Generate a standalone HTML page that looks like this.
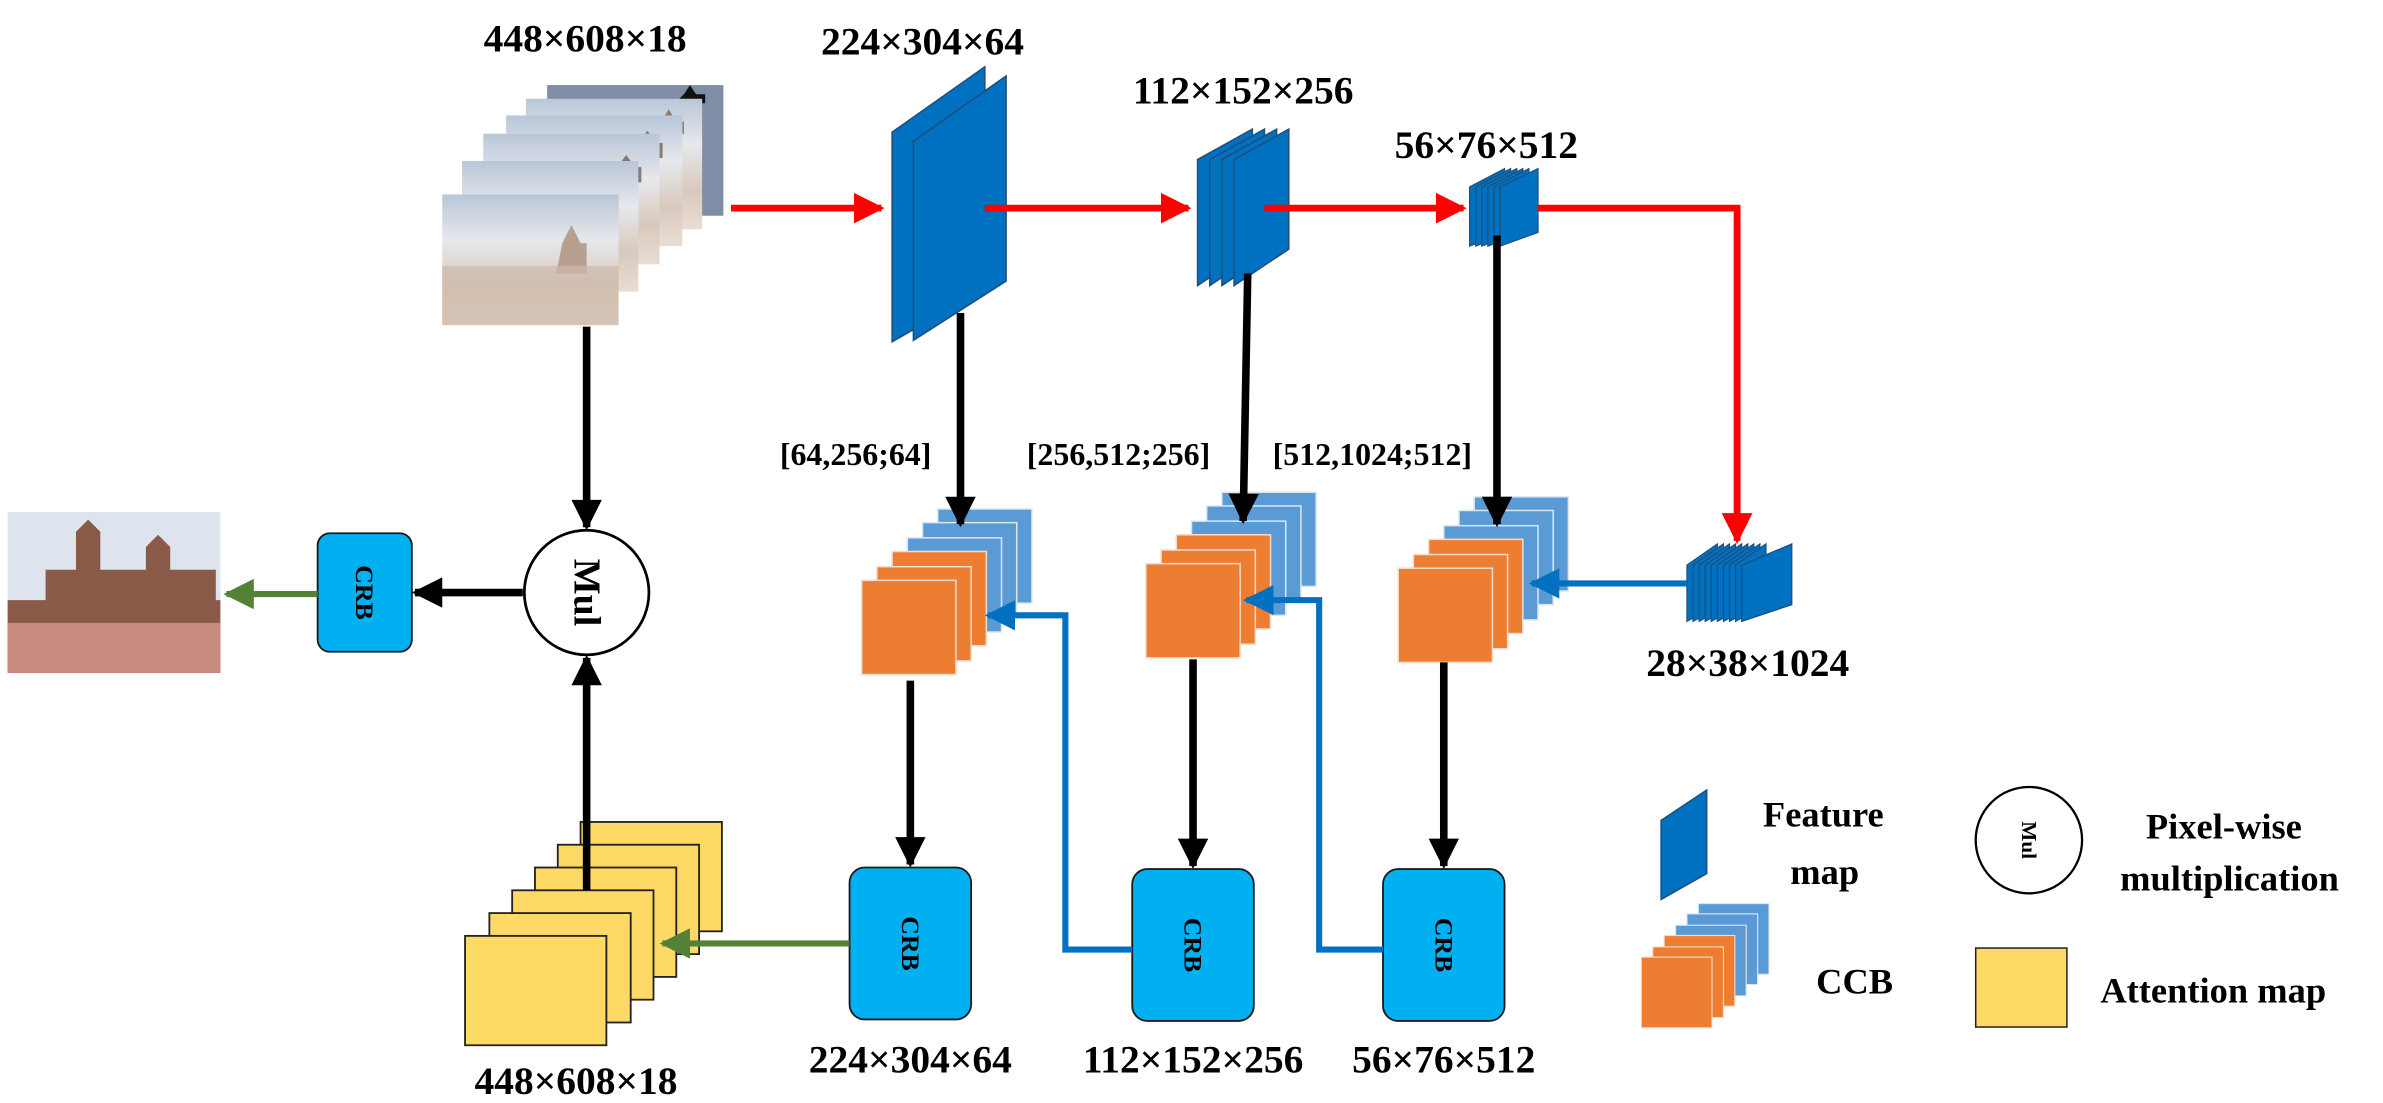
<!DOCTYPE html>
<html><head><meta charset="utf-8"><style>
html,body{margin:0;padding:0;background:#fff;}
svg{display:block;}
text{font-family:"Liberation Serif",serif;font-weight:bold;fill:#000;}
</style></head><body>
<svg width="2383" height="1103" viewBox="0 0 1568 726" preserveAspectRatio="none" xmlns="http://www.w3.org/2000/svg">
<defs>
<linearGradient id="sky" x1="0" y1="0" x2="0" y2="1">
<stop offset="0" stop-color="#b9c6d8"/><stop offset="0.35" stop-color="#e6e8ec"/><stop offset="0.7" stop-color="#d8c9bd"/><stop offset="1" stop-color="#e9ddd3"/></linearGradient>
<linearGradient id="sky2" x1="0" y1="0" x2="0" y2="1">
<stop offset="0" stop-color="#c7d3e3"/><stop offset="0.4" stop-color="#b59a86"/><stop offset="0.7" stop-color="#8a5b4a"/><stop offset="1" stop-color="#c26a6a"/></linearGradient>
<marker id="ar" viewBox="0 0 10 10" refX="9" refY="5" markerWidth="4.5" markerHeight="4.5" orient="auto" markerUnits="strokeWidth"><path d="M0,0 L10,5 L0,10 z" fill="#f00"/></marker>
<marker id="ak" viewBox="0 0 10 10" refX="9" refY="5" markerWidth="4.5" markerHeight="4" orient="auto" markerUnits="strokeWidth"><path d="M0,0 L10,5 L0,10 z" fill="#000"/></marker>
<marker id="ab" viewBox="0 0 10 10" refX="9" refY="5" markerWidth="5" markerHeight="5" orient="auto" markerUnits="strokeWidth"><path d="M0,0 L10,5 L0,10 z" fill="#0070c0"/></marker>
<marker id="ag" viewBox="0 0 10 10" refX="9" refY="5" markerWidth="5" markerHeight="5" orient="auto" markerUnits="strokeWidth"><path d="M0,0 L10,5 L0,10 z" fill="#538135"/></marker>
</defs>

<!-- input frames -->
<g>
<rect x="360" y="56" width="116" height="86" fill="#7f8ea6"/>
<path d="M450,62 l4,-6 l4,6 h6 v6 h-20 z" fill="#111"/>
<rect x="346" y="65" width="116" height="86" fill="url(#sky)"/>
<path d="M435,80 l5,-8 l5,8 h5 v8 h-20 z" fill="#8a7a70"/>
<rect x="333" y="76" width="116" height="86" fill="url(#sky)"/>
<path d="M420,94 l6,-8 l6,8 h4 v10 h-20 z" fill="#8a7a70"/>
<rect x="318" y="88" width="116" height="86" fill="url(#sky)"/>
<path d="M406,110 l6,-8 l6,8 h4 v10 h-20 z" fill="#8a7a70"/>
<rect x="304" y="106" width="116" height="86" fill="url(#sky)"/>
<path d="M392,154 l6,-10 l6,10 z" fill="#111"/>
<rect x="291" y="128" width="116" height="86" fill="url(#sky)"/>
<path d="M370,160 l6,-12 l6,12 h4 v20 h-20 z" fill="#b8a090"/>
<rect x="291" y="175" width="116" height="39" fill="#cdb9aa" opacity="0.7"/>
</g>

<!-- output image -->
<rect x="5" y="337" width="140" height="106" fill="#dde4ee"/>
<path d="M5,395 h25 v-20 h20 v-25 l8,-8 l8,8 v25 h30 v-15 l8,-8 l8,8 v15 h30 v20 h3 v48 h-140 z" fill="#8a5a48"/>
<rect x="5" y="410" width="140" height="33" fill="#c98a80"/>

<!-- feature maps -->
<polygon points="587,87 648,44 648,190 587,225" fill="#0070c0" stroke="#1f4e79" stroke-width="1"/>
<polygon points="601,93 662,50 662,185 601,224" fill="#0070c0" stroke="#1f4e79" stroke-width="1"/>

<g fill="#0070c0" stroke="#1f4e79" stroke-width="1">
<polygon points="788,105 824,85 824,164 788,188"/>
<polygon points="796,105 832,85 832,164 796,188"/>
<polygon points="804,105 840,85 840,164 804,188"/>
<polygon points="812,105 848,85 848,164 812,188"/>
</g>
<g fill="#0070c0" stroke="#1f4e79" stroke-width="0.8">
<polygon points="967,123 990,111 990,153 967,162"/>
<polygon points="971,123 994,111 994,153 971,162"/>
<polygon points="975,123 998,111 998,153 975,162"/>
<polygon points="979,123 1002,111 1002,153 979,162"/>
<polygon points="983,123 1006,111 1006,153 983,162"/>
<polygon points="987,123 1012,111 1012,153 987,162"/>
</g>
<g fill="#0070c0" stroke="#1f4e79" stroke-width="0.8">
<polygon points="1110,372 1130,358 1130,398 1110,409"/>
<polygon points="1114,372 1134,358 1134,398 1114,409"/>
<polygon points="1118,372 1138,358 1138,398 1118,409"/>
<polygon points="1122,372 1142,358 1142,398 1122,409"/>
<polygon points="1126,372 1146,358 1146,398 1126,409"/>
<polygon points="1130,372 1150,358 1150,398 1130,409"/>
<polygon points="1134,372 1154,358 1154,398 1134,409"/>
<polygon points="1138,372 1158,358 1158,398 1138,409"/>
<polygon points="1142,372 1162,358 1162,398 1142,409"/>
<polygon points="1146,372 1179,358 1179,398 1146,409"/>
</g>

<!-- CCB stacks -->
<g stroke="#f2dccd" stroke-width="1">
<g transform="translate(567,382)">
<rect x="50" y="-47" width="62" height="62" fill="#5b9bd5" stroke="#dce6f1"/>
<rect x="40" y="-38" width="62" height="62" fill="#5b9bd5" stroke="#dce6f1"/>
<rect x="30" y="-28" width="62" height="62" fill="#5b9bd5" stroke="#dce6f1"/>
<rect x="20" y="-19" width="62" height="62" fill="#ed7d31"/>
<rect x="10" y="-9" width="62" height="62" fill="#ed7d31"/>
<rect x="0" y="0" width="62" height="62" fill="#ed7d31"/></g>
<g transform="translate(754,371)">
<rect x="50" y="-47" width="62" height="62" fill="#5b9bd5" stroke="#dce6f1"/>
<rect x="40" y="-38" width="62" height="62" fill="#5b9bd5" stroke="#dce6f1"/>
<rect x="30" y="-28" width="62" height="62" fill="#5b9bd5" stroke="#dce6f1"/>
<rect x="20" y="-19" width="62" height="62" fill="#ed7d31"/>
<rect x="10" y="-9" width="62" height="62" fill="#ed7d31"/>
<rect x="0" y="0" width="62" height="62" fill="#ed7d31"/></g>
<g transform="translate(920,374)">
<rect x="50" y="-47" width="62" height="62" fill="#5b9bd5" stroke="#dce6f1"/>
<rect x="40" y="-38" width="62" height="62" fill="#5b9bd5" stroke="#dce6f1"/>
<rect x="30" y="-28" width="62" height="62" fill="#5b9bd5" stroke="#dce6f1"/>
<rect x="20" y="-19" width="62" height="62" fill="#ed7d31"/>
<rect x="10" y="-9" width="62" height="62" fill="#ed7d31"/>
<rect x="0" y="0" width="62" height="62" fill="#ed7d31"/></g>
<g transform="translate(1080,630) scale(0.75)">
<rect x="50" y="-47" width="62" height="62" fill="#5b9bd5" stroke="#dce6f1"/>
<rect x="40" y="-38" width="62" height="62" fill="#5b9bd5" stroke="#dce6f1"/>
<rect x="30" y="-28" width="62" height="62" fill="#5b9bd5" stroke="#dce6f1"/>
<rect x="20" y="-19" width="62" height="62" fill="#ed7d31"/>
<rect x="10" y="-9" width="62" height="62" fill="#ed7d31"/>
<rect x="0" y="0" width="62" height="62" fill="#ed7d31"/></g>
</g>

<!-- attention maps -->
<g fill="#ffd966" stroke="#222" stroke-width="1.2">
<rect x="382" y="541" width="93" height="72"/>
<rect x="367" y="556" width="93" height="72"/>
<rect x="352" y="571" width="93" height="72"/>
<rect x="337" y="586" width="93" height="72"/>
<rect x="322" y="601" width="93" height="72"/>
<rect x="306" y="616" width="93" height="72"/>
</g>
<rect x="1300" y="624" width="60" height="52" fill="#ffd966" stroke="#222" stroke-width="1"/>

<!-- CRB boxes -->
<g fill="#00b0f0" stroke="#1a1a1a" stroke-width="1.2">
<rect x="209" y="351" width="62" height="78" rx="8"/>
<rect x="559" y="571" width="80" height="100" rx="10"/>
<rect x="745" y="572" width="80" height="100" rx="10"/>
<rect x="910" y="572" width="80" height="100" rx="10"/>
</g>
<g font-size="17">
<text transform="translate(240,390) rotate(90)" text-anchor="middle" dominant-baseline="central">CRB</text>
<text transform="translate(599,621) rotate(90)" text-anchor="middle" dominant-baseline="central">CRB</text>
<text transform="translate(785,622) rotate(90)" text-anchor="middle" dominant-baseline="central">CRB</text>
<text transform="translate(950,622) rotate(90)" text-anchor="middle" dominant-baseline="central">CRB</text>
</g>

<!-- Mul circles -->
<circle cx="386" cy="390" r="41" fill="#fff" stroke="#000" stroke-width="1.8"/>
<text transform="translate(386,390) rotate(90)" text-anchor="middle" dominant-baseline="central" font-size="25">Mul</text>
<circle cx="1335" cy="553" r="35" fill="#fff" stroke="#000" stroke-width="1.5"/>
<text transform="translate(1335,553) rotate(90)" text-anchor="middle" dominant-baseline="central" font-size="14">Mul</text>

<!-- legend feature map -->
<polygon points="1093,540 1123,520 1123,575 1093,592" fill="#0070c0" stroke="#1f4e79" stroke-width="1"/>

<!-- red arrows -->
<g stroke="#f00" stroke-width="4.5" fill="none">
<line x1="481" y1="137" x2="580" y2="137" marker-end="url(#ar)"/>
<line x1="648" y1="137" x2="782" y2="137" marker-end="url(#ar)"/>
<line x1="832" y1="137" x2="963" y2="137" marker-end="url(#ar)"/>
<polyline points="1012,137 1143,137 1143,356" marker-end="url(#ar)"/>
</g>

<!-- black arrows -->
<g stroke="#000" stroke-width="5" fill="none">
<line x1="386" y1="215" x2="386" y2="347" marker-end="url(#ak)"/>
<line x1="344" y1="390" x2="273" y2="390" marker-end="url(#ak)"/>
<line x1="386" y1="586" x2="386" y2="433" marker-end="url(#ak)"/>
<line x1="632" y1="206" x2="632" y2="345" marker-end="url(#ak)"/>
<line x1="821" y1="180" x2="818" y2="343" marker-end="url(#ak)"/>
<line x1="985" y1="155" x2="985" y2="345" marker-end="url(#ak)"/>
<line x1="599" y1="448" x2="599" y2="569" marker-end="url(#ak)"/>
<line x1="785" y1="434" x2="785" y2="570" marker-end="url(#ak)"/>
<line x1="950" y1="436" x2="950" y2="570" marker-end="url(#ak)"/>
</g>

<!-- blue arrows -->
<g stroke="#0070c0" stroke-width="4" fill="none">
<polyline points="745,625 701,625 701,405 650,405" marker-end="url(#ab)"/>
<polyline points="910,625 868,625 868,395 820,395" marker-end="url(#ab)"/>
<line x1="1110" y1="384" x2="1008" y2="384" marker-end="url(#ab)"/>
</g>

<!-- green arrows -->
<g stroke="#538135" stroke-width="4" fill="none">
<line x1="559" y1="621" x2="436" y2="621" marker-end="url(#ag)"/>
<line x1="209" y1="391" x2="149" y2="391" marker-end="url(#ag)"/>
</g>

<!-- labels -->
<g font-size="26" text-anchor="middle">
<text x="385" y="34">448×608×18</text>
<text x="607" y="36">224×304×64</text>
<text x="818" y="68">112×152×256</text>
<text x="978" y="104">56×76×512</text>
<text x="1150" y="445">28×38×1024</text>
<text x="379" y="720">448×608×18</text>
<text x="599" y="706">224×304×64</text>
<text x="785" y="706">112×152×256</text>
<text x="950" y="706">56×76×512</text>
</g>
<g font-size="21" text-anchor="middle">
<text x="563" y="306">[64,256;64]</text>
<text x="736" y="306">[256,512;256]</text>
<text x="903" y="306">[512,1024;512]</text>
</g>
<g font-size="24">
<text x="1160" y="544">Feature</text>
<text x="1178" y="582">map</text>
<text x="1195" y="654">CCB</text>
<text x="1412" y="552">Pixel-wise</text>
<text x="1395" y="586">multiplication</text>
<text x="1382" y="660">Attention map</text>
</g>
</svg>
</body></html>
